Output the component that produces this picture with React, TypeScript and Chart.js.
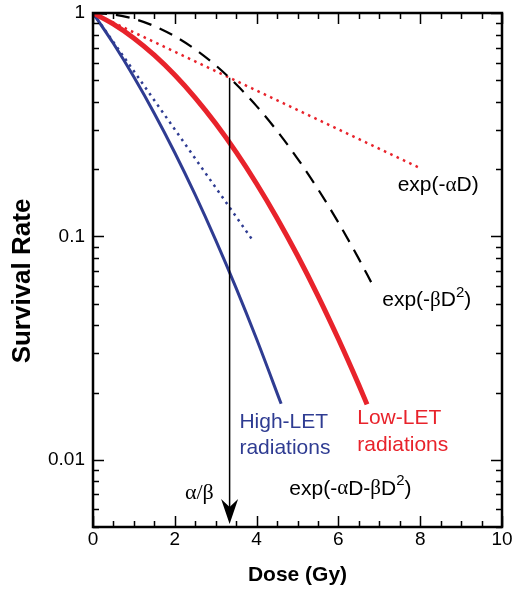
import React, { useEffect, useRef } from "react";
import { Chart, registerables } from "chart.js";

Chart.register(...registerables);

// ---- data ----
const doseLow = [0, 0.5, 1, 1.5, 2, 2.5, 3, 3.5, 4, 4.5, 5, 5.5, 6, 6.5, 6.7];
const survivalLowLET = [1, 0.8914, 0.7711, 0.6473, 0.5273, 0.4169, 0.3198, 0.2381, 0.172, 0.1206, 0.0821, 0.0542, 0.0347, 0.0216, 0.0177];

const doseHigh = [0, 0.5, 1, 1.5, 2, 2.5, 3, 3.5, 4, 4.6];
const survivalHighLET = [1, 0.7298, 0.5169, 0.3552, 0.2369, 0.1534, 0.0963, 0.0587, 0.0347, 0.0178];

const doseQuad = [0, 0.5, 1, 1.5, 2, 2.5, 3, 3.5, 4, 4.5, 5, 5.5, 6, 6.5, 6.8];
const survivalQuadratic = [1, 0.9851, 0.9418, 0.8737, 0.7866, 0.6873, 0.5827, 0.4795, 0.3829, 0.2967, 0.2231, 0.1628, 0.1153, 0.0793, 0.0624];

const doseLinLow = [0, 8];
const survivalLinearLow = [1, 0.202];

const doseLinHigh = [0, 3.9];
const survivalLinearHigh = [1, 0.0963];

const alphaBetaDose = 3.34;
const arrowTopSurvival = 0.513;

const xTickValues = [0, 2, 4, 6, 8, 10];
const xTickLabels = ["0", "2", "4", "6", "8", "10"];
const yTickValues = [0.01, 0.1, 1];
const yTickLabels = ["0.01", "0.1", "1"];

const RED = "#e8232b";
const BLUE = "#2f3c92";
const SANS = "'Liberation Sans', Arial, Helvetica, sans-serif";
const SERIF = "'Liberation Serif', 'Times New Roman', serif";

type Seg = { t: string; serif?: boolean; sup?: boolean };

function drawSegs(ctx: CanvasRenderingContext2D, segs: Seg[], x: number, y: number, align: "left" | "center", color: string, size: number) {
  const fontFor = (s: Seg) => (s.sup ? `${Math.round(size * 0.7)}px ${SANS}` : `${size}px ${s.serif ? SERIF : SANS}`);
  let total = 0;
  for (const s of segs) {
    ctx.font = fontFor(s);
    total += ctx.measureText(s.t).width;
  }
  let cx = align === "center" ? x - total / 2 : x;
  ctx.fillStyle = color;
  ctx.textAlign = "left";
  ctx.textBaseline = "middle";
  for (const s of segs) {
    ctx.font = fontFor(s);
    ctx.fillText(s.t, cx, s.sup ? y - size * 0.36 : y);
    cx += ctx.measureText(s.t).width;
  }
}

const decorPlugin = {
  id: "decor",
  afterDatasetsDraw(chart: any) {
    const { ctx, chartArea: a, scales } = chart;
    const xs = scales.x;
    const ys = scales.y;
    ctx.save();
    ctx.strokeStyle = "#000";
    ctx.lineCap = "butt";
    // x ticks (inward, bottom and top)
    ctx.lineWidth = 1.5;
    for (let i = 0; i <= 20; i++) {
      const d = i * 0.5;
      const px = Math.round(xs.getPixelForValue(d)) + 0.5;
      const len = i % 4 === 0 ? 11 : 6;
      ctx.beginPath();
      ctx.moveTo(px, a.bottom);
      ctx.lineTo(px, a.bottom - len);
      ctx.moveTo(px, a.top);
      ctx.lineTo(px, a.top + len);
      ctx.stroke();
    }
    // y ticks (log minor)
    for (let e = -3; e <= 0; e++) {
      for (let m = 1; m <= 9; m++) {
        const v = m * Math.pow(10, e);
        if (v < ys.min * 0.999 || v > ys.max * 1.001) continue;
        const py = Math.round(ys.getPixelForValue(v)) + 0.5;
        const len = m === 1 ? 11 : 6;
        ctx.beginPath();
        ctx.moveTo(a.left, py);
        ctx.lineTo(a.left + len, py);
        ctx.moveTo(a.right, py);
        ctx.lineTo(a.right - len, py);
        ctx.stroke();
      }
    }
    // frame
    ctx.lineWidth = 2.5;
    ctx.strokeRect(a.left, a.top, a.right - a.left, a.bottom - a.top);

    // alpha/beta arrow
    const ax = xs.getPixelForValue(alphaBetaDose);
    const ayTop = ys.getPixelForValue(arrowTopSurvival);
    const tip = a.bottom - 3;
    ctx.lineWidth = 1.5;
    ctx.beginPath();
    ctx.moveTo(ax, ayTop);
    ctx.lineTo(ax, tip - 10);
    ctx.stroke();
    ctx.fillStyle = "#000";
    ctx.beginPath();
    ctx.moveTo(ax, tip);
    ctx.lineTo(ax - 8.5, tip - 25);
    ctx.lineTo(ax, tip - 17);
    ctx.lineTo(ax + 8.5, tip - 25);
    ctx.closePath();
    ctx.fill();

    const P = (d: number, s: number): [number, number] => [xs.getPixelForValue(d), ys.getPixelForValue(s)];
    const size = 21;
    let p = P(8.44, 0.169);
    drawSegs(ctx, [{ t: "exp(-" }, { t: "α", serif: true }, { t: "D)" }], p[0], p[1], "center", "#000", size);
    p = P(8.16, 0.0516);
    drawSegs(ctx, [{ t: "exp(-" }, { t: "β", serif: true }, { t: "D" }, { t: "2", sup: true }, { t: ")" }], p[0], p[1], "center", "#000", size);
    p = P(4.8, 0.00741);
    drawSegs(ctx, [{ t: "exp(-" }, { t: "α", serif: true }, { t: "D-" }, { t: "β", serif: true }, { t: "D" }, { t: "2", sup: true }, { t: ")" }], p[0], p[1], "left", "#000", size);
    p = P(3.58, 0.01466);
    drawSegs(ctx, [{ t: "High-LET" }], p[0], p[1], "left", BLUE, size);
    p = P(3.58, 0.01132);
    drawSegs(ctx, [{ t: "radiations" }], p[0], p[1], "left", BLUE, size);
    p = P(6.46, 0.01527);
    drawSegs(ctx, [{ t: "Low-LET" }], p[0], p[1], "left", RED, size);
    p = P(6.46, 0.01167);
    drawSegs(ctx, [{ t: "radiations" }], p[0], p[1], "left", RED, size);
    p = P(2.6, 0.0071);
    drawSegs(ctx, [{ t: "α/β", serif: true }], p[0], p[1], "center", "#000", 22);

    // y axis title
    ctx.save();
    ctx.translate(23, (a.top + a.bottom) / 2 + 11);
    ctx.rotate(-Math.PI / 2);
    ctx.font = `bold 26px ${SANS}`;
    ctx.fillStyle = "#000";
    ctx.textAlign = "center";
    ctx.textBaseline = "middle";
    ctx.fillText("Survival Rate", 0, 0);
    ctx.restore();

    ctx.restore();
  },
};

const pts = (xs: number[], ys: number[]) => xs.map((x, i) => ({ x, y: ys[i] }));

export default function App() {
  const ref = useRef<HTMLCanvasElement | null>(null);
  useEffect(() => {
    if (!ref.current) return;
    const chart = new Chart(ref.current, {
      type: "line",
      data: {
        datasets: [
          { label: "Low-LET", data: pts(doseLow, survivalLowLET), borderColor: RED, borderWidth: 5, cubicInterpolationMode: "monotone" },
          { label: "High-LET", data: pts(doseHigh, survivalHighLET), borderColor: BLUE, borderWidth: 3, cubicInterpolationMode: "monotone" },
          { label: "exp(-βD²)", data: pts(doseQuad, survivalQuadratic), borderColor: "#000", borderWidth: 2.2, borderDash: [14, 9], cubicInterpolationMode: "monotone" },
          { label: "exp(-αD) low", data: pts(doseLinLow, survivalLinearLow), borderColor: RED, borderWidth: 2.5, borderDash: [2.5, 4.5] },
          { label: "exp(-αD) high", data: pts(doseLinHigh, survivalLinearHigh), borderColor: BLUE, borderWidth: 2.5, borderDash: [2.5, 4.5] },
        ] as any,
      },
      options: {
        animation: false,
        responsive: false,
        layout: { padding: { left: 0, top: 13, right: 14, bottom: 0 } },
        elements: { point: { radius: 0 } },
        plugins: { legend: { display: false }, tooltip: { enabled: false } },
        scales: {
          x: {
            type: "linear",
            min: 0,
            max: 10,
            afterBuildTicks: (s: any) => { s.ticks = xTickValues.map((v) => ({ value: v })); },
            afterFit: (s: any) => { s.height = 65; s.paddingLeft = 0; s.paddingRight = 0; },
            grid: { display: false, drawTicks: false },
            border: { display: false },
            ticks: {
              autoSkip: false,
              maxRotation: 0,
              padding: 1,
              color: "#000",
              font: { family: SANS, size: 19 },
              callback: (v: any) => { const i = xTickValues.indexOf(Number(v)); return i >= 0 ? xTickLabels[i] : ""; },
            },
            title: { display: true, text: "Dose (Gy)", color: "#000", font: { family: SANS, size: 21, weight: "bold" }, padding: { top: 0, bottom: 4 } },
          },
          y: {
            type: "logarithmic",
            min: 0.005,
            max: 1,
            afterBuildTicks: (s: any) => { s.ticks = yTickValues.map((v) => ({ value: v })); },
            afterFit: (s: any) => { s.width = 93; s.paddingTop = 0; s.paddingBottom = 0; },
            grid: { display: false, drawTicks: false },
            border: { display: false },
            ticks: {
              autoSkip: false,
              padding: 8,
              color: "#000",
              font: { family: SANS, size: 19 },
              callback: (v: any) => { const i = yTickValues.findIndex((t) => Math.abs(t - Number(v)) < 1e-9); return i >= 0 ? yTickLabels[i] : ""; },
            },
          },
        },
      } as any,
      plugins: [decorPlugin],
    });
    return () => chart.destroy();
  }, []);
  return (
    <canvas
      ref={ref}
      width={516}
      height={592}
      style={{ position: "absolute", left: 0, top: 0, width: 516, height: 592, display: "block", background: "#fff" }}
    />
  );
}
